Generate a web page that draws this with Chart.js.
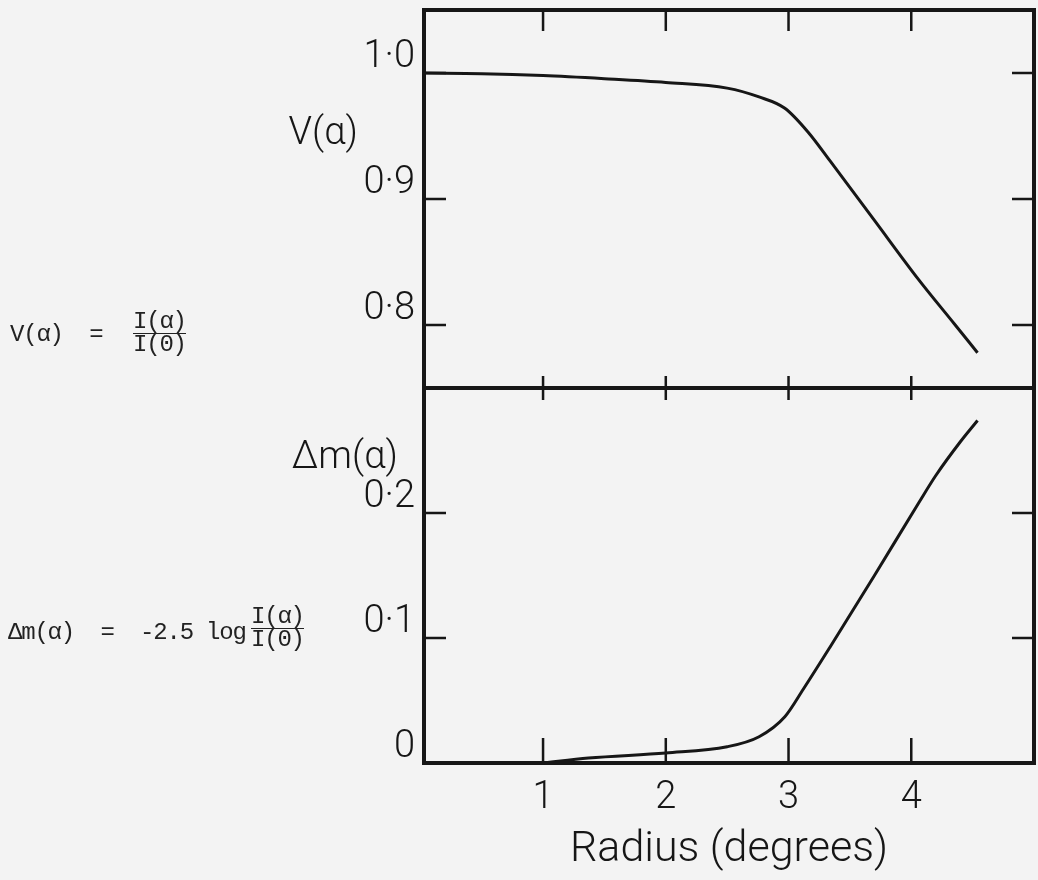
<!DOCTYPE html>
<html>
<head>
<meta charset="utf-8">
<script src="https://cdn.jsdelivr.net/npm/chart.js@4.4.1/dist/chart.umd.min.js"></script>
<style>
  body { margin: 0; width: 1038px; height: 880px; overflow: hidden; position: relative;
         background: #f3f3f3; color: #161616; font-family: Roboto, sans-serif; }
  canvas { position: absolute; left: 0; }
  #top { top: 0; }
  #bottom { top: 380px; }
  .name { position: absolute; font-size: 38px; font-weight: 300; line-height: 38px; white-space: nowrap; }
  .eq { position: absolute; font-family: "Liberation Mono", monospace; font-size: 24px;
        letter-spacing: -1.2px; line-height: 22px; white-space: pre; color: #222; }
  .frac { position: absolute; font-family: "Liberation Mono", monospace; font-size: 24px;
          letter-spacing: -1.2px; line-height: 22px; text-align: center; color: #222; }
  .frac .den { border-top: 1.5px solid #222; }
</style>
</head>
<body>
<canvas id="top" width="1038" height="400"></canvas>
<canvas id="bottom" width="1038" height="500"></canvas>

<div class="name" style="right:680px; top:112px">V(α)</div>
<div class="name" style="right:640px; top:436px">Δm(α)</div>

<div class="eq" style="left:10px; top:324px">V(α)  =</div>
<div class="frac" style="left:133px; top:311px"><div>I(α)</div><div class="den">I(0)</div></div>

<div class="eq" style="left:8px; top:622px">Δm(α)  =  -2.5 log</div>
<div class="frac" style="left:251px; top:606px"><div>I(α)</div><div class="den">I(0)</div></div>

<script>
// radius in degrees and the two profiles read along it
const radiusV = [0.03, 0.5, 1.0, 1.5, 2.0, 2.5, 2.76, 2.97, 3.16, 3.34, 3.7, 4.06, 4.35, 4.54];
const visibility = [1.0, 0.9995, 0.998, 0.9955, 0.9925, 0.988, 0.981, 0.972, 0.953, 0.930, 0.883, 0.836, 0.801, 0.778];

const radiusDm = [1.0, 1.37, 2.0, 2.5, 2.76, 2.97, 3.12, 3.34, 3.7, 4.06, 4.2, 4.4, 4.54];
const deltaMag = [0, 0.004, 0.008, 0.013, 0.021, 0.037, 0.059, 0.093, 0.150, 0.208, 0.230, 0.257, 0.274];

const radiusTicks = [1, 2, 3, 4];
const vTicks = [0.8, 0.9, 1.0];
const vTickLabels = ['0·8', '0·9', '1·0'];
const dmTicks = [0, 0.1, 0.2];
const dmTickLabels = ['0', '0·1', '0·2'];

const ink = '#161616';
const labelFont = { family: 'Roboto', size: 38, weight: 300 };

// box round the plot area plus inward tick marks on all four sides
const frameTicks = {
  id: 'frameTicks',
  afterDraw(chart, args, o) {
    const { ctx, chartArea: a, scales: { x, y } } = chart;
    ctx.save();
    ctx.strokeStyle = ink;
    ctx.lineWidth = 2.5;
    ctx.beginPath();
    radiusTicks.forEach(v => {
      const px = x.getPixelForValue(v);
      ctx.moveTo(px, a.top); ctx.lineTo(px, a.top + o.topLen);
      ctx.moveTo(px, a.bottom); ctx.lineTo(px, a.bottom - o.bottomLen);
    });
    o.yTicks.forEach(v => {
      const py = y.getPixelForValue(v);
      ctx.moveTo(a.left, py); ctx.lineTo(a.left + 22, py);
      ctx.moveTo(a.right, py); ctx.lineTo(a.right - 22, py);
    });
    ctx.stroke();
    ctx.lineWidth = 4;
    ctx.strokeRect(a.left, a.top, a.right - a.left, a.bottom - a.top);
    ctx.restore();
  }
};

function panel(id, xs, ys, yMin, yMax, yTicks, yLabels, bottomAxis, padding, tickLens) {
  return new Chart(document.getElementById(id), {
    type: 'line',
    data: {
      datasets: [{
        data: xs.map((r, i) => ({ x: r, y: ys[i] })),
        borderColor: ink,
        borderWidth: 3,
        pointRadius: 0,
        cubicInterpolationMode: 'monotone'
      }]
    },
    options: {
      responsive: false,
      devicePixelRatio: 1,
      animation: false,
      layout: { padding },
      plugins: {
        legend: { display: false },
        tooltip: { enabled: false },
        frameTicks: { yTicks, topLen: tickLens[0], bottomLen: tickLens[1] }
      },
      scales: {
        x: {
          type: 'linear', min: 0.03, max: 5.0,
          display: bottomAxis,
          afterBuildTicks: ax => { ax.ticks = radiusTicks.map(v => ({ value: v })); },
          afterFit: ax => {
            if (bottomAxis) ax.height = 117;
            ax.paddingLeft = 0; ax.paddingRight = 0;
          },
          grid: { display: false, drawTicks: false },
          border: { display: false },
          ticks: { font: labelFont, color: ink, padding: 13, maxRotation: 0 },
          title: {
            display: true, text: 'Radius (degrees)', color: ink,
            font: { family: 'Roboto', size: 43, weight: 300 },
            padding: { top: 0, bottom: 4 }
          }
        },
        y: {
          type: 'linear', min: yMin, max: yMax,
          afterBuildTicks: ax => { ax.ticks = yTicks.map(v => ({ value: v })); },
          afterFit: ax => {
            ax.width = 424;
            ax.paddingTop = 0; ax.paddingBottom = 0;
          },
          grid: { display: false, drawTicks: false },
          border: { display: false },
          ticks: {
            font: labelFont, color: ink, padding: 9, labelOffset: -16,
            callback: (v, i) => yLabels[i]
          }
        }
      }
    },
    plugins: [frameTicks]
  });
}

panel('top', radiusV, visibility, 0.75, 1.05, vTicks, vTickLabels, false,
      { top: 10, right: 4, bottom: 12, left: 0 }, [21, 12]);
panel('bottom', radiusDm, deltaMag, 0, 0.3, dmTicks, dmTickLabels, true,
      { top: 8, right: 4, bottom: 0, left: 0 }, [12, 25]);
</script>
</body>
</html>
